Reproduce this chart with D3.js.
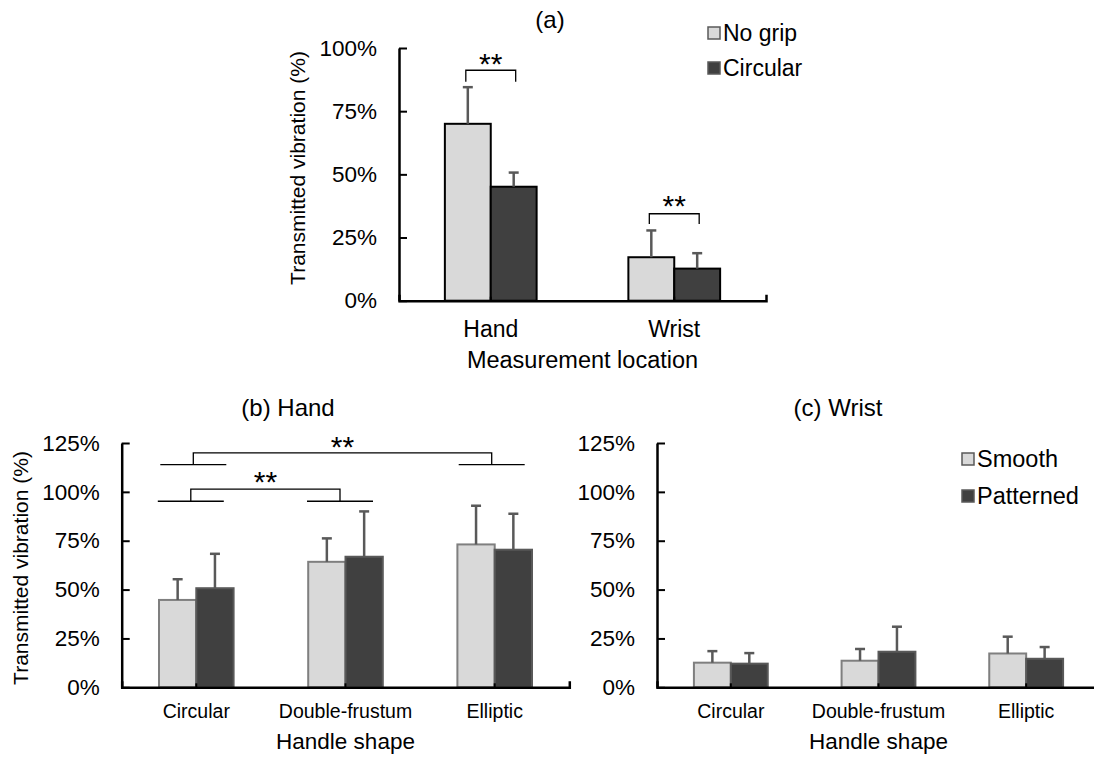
<!DOCTYPE html>
<html>
<head>
<meta charset="utf-8">
<script src="https://cdn.jsdelivr.net/npm/d3@7"></script>
<style>
  body { margin: 0; background: #fff; }
  svg { display: block; font-family: "Liberation Sans", Arial, sans-serif; }
</style>
</head>
<body>
<svg id="chart" width="1094" height="757"></svg>
<script>
// ---- data (percent) ----
const locations = ['Hand', 'Wrist'];
const gripSeries = ['No grip', 'Circular'];
const noGripMean = [70.0, 17.2];
const noGripSD = [14.5, 10.6];
const circularMean = [45.1, 12.7];
const circularSD = [5.6, 6.1];

const shapes = ['Circular', 'Double-frustum', 'Elliptic'];
const surfaceSeries = ['Smooth', 'Patterned'];
const handSmoothMean = [44.7, 64.2, 73.1];
const handSmoothSD = [10.6, 12.0, 19.8];
const handPatternedMean = [50.7, 66.8, 70.4];
const handPatternedSD = [17.6, 23.2, 18.4];
const wristSmoothMean = [12.6, 13.6, 17.3];
const wristSmoothSD = [5.9, 6.0, 8.6];
const wristPatternedMean = [12.1, 18.2, 14.6];
const wristPatternedSD = [5.4, 12.8, 6.0];

const ticksA = [0, 25, 50, 75, 100];
const ticksBC = [0, 25, 50, 75, 100, 125];

// significance marks
const sigA = [
  { cat: 'Hand', y: 91.2, leg: 86.6, star: 94.5 },
  { cat: 'Wrist', y: 34.4, leg: 30.4, star: 38.5 }
];
const sigB = [
  { from: 'Circular', to: 'Elliptic', y: 119.9, leg: 113.9, star: 124.2 },
  { from: 'Circular', to: 'Double-frustum', y: 101.4, leg: 95.2, star: 106.2 }
];

const LIGHT = '#d9d9d9';
const DARK = '#404040';
const svg = d3.select('#chart');

function rows(cats, means, sds) {
  return cats.map((c, i) => ({
    cat: c,
    values: means.map((m, s) => ({ s, mean: m[i], sd: sds[s][i] }))
  }));
}

// generic grouped bar panel
function panel(opt) {
  const g = svg.append('g');
  const x = d3.scaleBand().domain(opt.cats).range([opt.x0, opt.x1]);
  const inner = d3.scaleBand().domain(opt.series).range([x.bandwidth() / 4, x.bandwidth() * 3 / 4]);
  const y = d3.scaleLinear().domain([0, opt.max]).range([opt.y0, opt.yTop]);
  const data = rows(opt.cats, opt.means, opt.sds);

  const grp = g.selectAll('.grp').data(data).join('g')
    .attr('transform', d => `translate(${x(d.cat)},0)`);

  grp.selectAll('rect').data(d => d.values).join('rect')
    .attr('x', d => inner(opt.series[d.s]))
    .attr('y', d => y(d.mean))
    .attr('width', inner.bandwidth())
    .attr('height', d => y(0) - y(d.mean))
    .attr('fill', d => d.s === 0 ? LIGHT : DARK)
    .attr('stroke', d => opt.barStroke[d.s])
    .attr('stroke-width', opt.barStrokeW);

  // one-sided error bars
  const eb = grp.selectAll('.eb').data(d => d.values).join('g').attr('class', 'eb')
    .attr('transform', d => `translate(${inner(opt.series[d.s]) + inner.bandwidth() / 2},0)`);
  eb.append('line')
    .attr('y1', d => y(d.mean)).attr('y2', d => y(d.mean + d.sd))
    .attr('stroke', '#595959').attr('stroke-width', 2.5);
  eb.append('line')
    .attr('x1', -5).attr('x2', 5)
    .attr('y1', d => y(d.mean + d.sd)).attr('y2', d => y(d.mean + d.sd))
    .attr('stroke', '#595959').attr('stroke-width', 2.5);

  // y axis
  const ya = g.append('g').attr('transform', `translate(${opt.x0},0)`)
    .call(d3.axisLeft(y).tickValues(opt.ticks).tickFormat(d => d + '%')
      .tickSize(-8).tickSizeOuter(0).tickPadding(22));
  ya.selectAll('line').attr('stroke', '#000').attr('stroke-width', 2);
  ya.select('.domain').attr('stroke', '#000').attr('stroke-width', 2.5);
  ya.selectAll('text').attr('font-size', opt.tickFont).attr('fill', '#000')
    .attr('font-family', '"Liberation Sans", Arial, sans-serif');

  // x axis
  const xa = g.append('g').attr('transform', `translate(0,${opt.y0})`)
    .call(d3.axisBottom(x).tickSize(-4).tickSizeOuter(-6).tickPadding(opt.catPad));
  xa.selectAll('line').attr('stroke', '#000').attr('stroke-width', 2);
  xa.select('.domain').attr('stroke', '#000').attr('stroke-width', 2.5);
  xa.selectAll('text').attr('font-size', opt.catFont).attr('fill', '#000')
    .attr('font-family', '"Liberation Sans", Arial, sans-serif');

  // titles
  g.append('text').attr('x', (opt.x0 + opt.x1) / 2).attr('y', opt.xTitleY)
    .attr('text-anchor', 'middle').attr('font-size', opt.xTitleFont).text(opt.xTitle);
  g.append('text').attr('x', opt.titleX).attr('y', opt.titleY)
    .attr('text-anchor', 'middle').attr('font-size', opt.titleFont).text(opt.title);
  if (opt.yTitle) {
    g.append('text')
      .attr('transform', `translate(${opt.yTitleX},${opt.yTitleY}) rotate(-90)`)
      .attr('text-anchor', 'middle').attr('dy', '0.35em')
      .attr('font-size', opt.yTitleFont).text(opt.yTitle);
  }

  // legend
  if (opt.legend) {
    const lg = g.selectAll('.lg').data(opt.series).join('g')
      .attr('transform', (d, i) => `translate(${opt.legend.x},${opt.legend.y + i * opt.legend.step})`);
    lg.append('rect').attr('x', 0).attr('y', -6).attr('width', 12).attr('height', 12)
      .attr('fill', (d, i) => i === 0 ? LIGHT : DARK)
      .attr('stroke', '#595959').attr('stroke-width', 1.5);
    lg.append('text').attr('x', 15).attr('dy', '0.36em')
      .attr('font-size', opt.legend.font).text(d => d);
  }
  return { g, x, inner, y };
}

// ---- (a) ----
const pa = panel({
  cats: locations, series: gripSeries,
  means: [noGripMean, circularMean], sds: [noGripSD, circularSD],
  x0: 399, x1: 766, y0: 300.7, yTop: 48, max: 100, ticks: ticksA,
  barStroke: ['#000', '#000'], barStrokeW: 2,
  tickFont: 22.5, catFont: 23, catPad: 20,
  xTitle: 'Measurement location', xTitleY: 368, xTitleFont: 23.5,
  title: '(a)', titleX: 550, titleY: 28, titleFont: 24,
  yTitle: 'Transmitted vibration (%)', yTitleX: 298, yTitleY: 168, yTitleFont: 21,
  legend: { x: 708, y: 33, step: 35, font: 23 }
});

const starFont = 30;
const starShift = 12.5;
sigA.forEach(s => {
  const c = pa.x(s.cat);
  const xl = c + pa.inner(gripSeries[0]) + pa.inner.bandwidth() / 2 - 2;
  const xr = c + pa.inner(gripSeries[1]) + pa.inner.bandwidth() / 2 + 2;
  pa.g.append('path')
    .attr('d', `M${xl},${pa.y(s.leg)}V${pa.y(s.y)}H${xr}V${pa.y(s.leg)}`)
    .attr('fill', 'none').attr('stroke', '#000').attr('stroke-width', 1.3);
  pa.g.append('text').attr('x', (xl + xr) / 2).attr('y', pa.y(s.star) + starShift)
    .attr('text-anchor', 'middle').attr('font-size', starFont).text('**');
});

// ---- (b) ----
const pb = panel({
  cats: shapes, series: surfaceSeries,
  means: [handSmoothMean, handPatternedMean], sds: [handSmoothSD, handPatternedSD],
  x0: 121.7, x1: 569.3, y0: 687.3, yTop: 443, max: 125, ticks: ticksBC,
  barStroke: ['#7f7f7f', '#595959'], barStrokeW: 2,
  tickFont: 22.5, catFont: 19.5, catPad: 17,
  xTitle: 'Handle shape', xTitleY: 749, xTitleFont: 22.5,
  title: '(b) Hand', titleX: 288, titleY: 416, titleFont: 24,
  yTitle: 'Transmitted vibration (%)', yTitleX: 21, yTitleY: 568, yTitleFont: 21
});

sigB.forEach((s, k) => {
  const dx = k === 0 ? -3 : -5.5;
  const cl = pb.x(s.from) + pb.x.bandwidth() / 2 + dx;
  const cr = pb.x(s.to) + pb.x.bandwidth() / 2 + dx;
  pb.g.append('path')
    .attr('d', `M${cl},${pb.y(s.leg)}V${pb.y(s.y)}H${cr}V${pb.y(s.leg)}`)
    .attr('fill', 'none').attr('stroke', '#000').attr('stroke-width', 1.3);
  [cl, cr].forEach(c => {
    pb.g.append('line').attr('x1', c - 33).attr('x2', c + 33)
      .attr('y1', pb.y(s.leg)).attr('y2', pb.y(s.leg))
      .attr('stroke', '#000').attr('stroke-width', 1.3);
  });
  pb.g.append('text').attr('x', (cl + cr) / 2).attr('y', pb.y(s.star) + starShift)
    .attr('text-anchor', 'middle').attr('font-size', starFont).text('**');
});

// ---- (c) ----
panel({
  cats: shapes, series: surfaceSeries,
  means: [wristSmoothMean, wristPatternedMean], sds: [wristSmoothSD, wristPatternedSD],
  x0: 657, x1: 1100, y0: 687.3, yTop: 443, max: 125, ticks: ticksBC,
  barStroke: ['#7f7f7f', '#595959'], barStrokeW: 2,
  tickFont: 22.5, catFont: 19.5, catPad: 17,
  xTitle: 'Handle shape', xTitleY: 749, xTitleFont: 22.5,
  title: '(c) Wrist', titleX: 838, titleY: 416, titleFont: 24,
  legend: { x: 962, y: 459, step: 37, font: 23.5 }
});
</script>
</body>
</html>
